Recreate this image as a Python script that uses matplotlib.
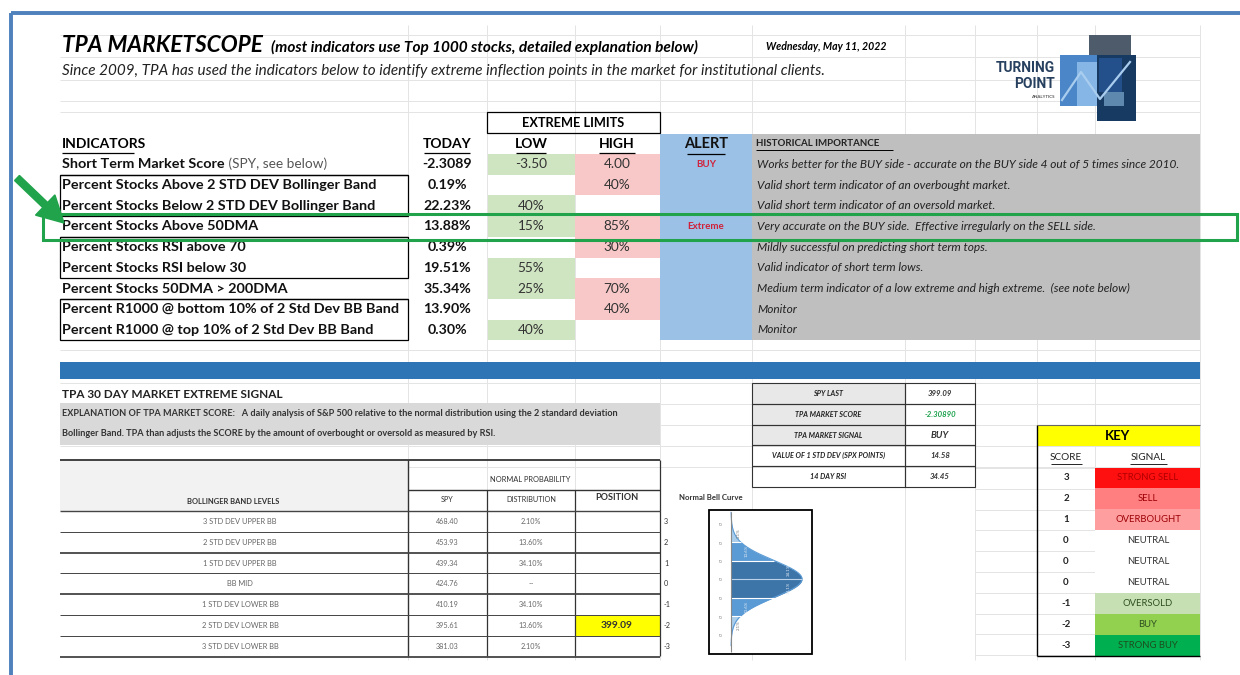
import matplotlib
matplotlib.use("Agg")
import matplotlib.pyplot as plt
from matplotlib.patches import Rectangle, FancyArrow
import numpy as np

plt.rcParams['font.family'] = ['Lato', 'DejaVu Sans']

# ---------------- data ----------------
title_main = "TPA MARKETSCOPE"
title_note = "(most indicators use Top 1000 stocks, detailed explanation below)"
date_text = "Wednesday, May 11, 2022"
subtitle = ("Since 2009, TPA has used the indicators below to identify extreme "
            "inflection points in the market for institutional clients.")

indicators = [
    "Short Term Market Score",
    "Percent Stocks Above 2 STD DEV Bollinger Band",
    "Percent Stocks Below 2 STD DEV Bollinger Band",
    "Percent Stocks Above 50DMA",
    "Percent Stocks RSI above 70",
    "Percent Stocks RSI below 30",
    "Percent Stocks 50DMA > 200DMA",
    "Percent R1000 @ bottom 10% of 2 Std Dev BB Band",
    "Percent R1000 @ top 10% of 2 Std Dev BB Band",
]
today_vals = ["-2.3089", "0.19%", "22.23%", "13.88%", "0.39%", "19.51%", "35.34%", "13.90%", "0.30%"]
low_limits = ["-3.50", "", "40%", "15%", "", "55%", "25%", "", "40%"]
high_limits = ["4.00", "40%", "", "85%", "30%", "", "70%", "40%", ""]
alerts = ["BUY", "", "", "Extreme", "", "", "", "", ""]
notes = [
    "Works better for the BUY side - accurate on the BUY side 4 out of 5 times since 2010.",
    "Valid short term indicator of an overbought market.",
    "Valid short term indicator of an oversold market.",
    "Very accurate on the BUY side.  Effective irregularly on the SELL side.",
    "Mildly successful on predicting short term tops.",
    "Valid indicator of short term lows.",
    "Medium term indicator of a low extreme and high extreme.  (see note below)",
    "Monitor",
    "Monitor",
]

bb_levels = ["3 STD DEV UPPER BB", "2 STD DEV UPPER BB", "1 STD DEV UPPER BB", "BB MID",
             "1 STD DEV LOWER BB", "2 STD DEV LOWER BB", "3 STD DEV LOWER BB"]
bb_spy = ["468.40", "453.93", "439.34", "424.76", "410.19", "395.61", "381.03"]
bb_dist = ["2.10%", "13.60%", "34.10%", "--", "34.10%", "13.60%", "2.10%"]
bb_sigma = [3, 2, 1, 0, -1, -2, -3]
bb_position = ["", "", "", "", "", "399.09", ""]
bell_pcts = ["2.1%", "13.6%", "34.1%", "34.1%", "13.6%", "2.1%"]

summary_labels = ["SPY LAST", "TPA MARKET SCORE", "TPA MARKET SIGNAL",
                  "VALUE OF 1 STD DEV (SPX POINTS)", "14 DAY RSI"]
summary_values = ["399.09", "-2.30890", "BUY", "14.58", "34.45"]

key_scores = ["3", "2", "1", "0", "0", "0", "-1", "-2", "-3"]
key_signals = ["STRONG SELL", "SELL", "OVERBOUGHT", "NEUTRAL", "NEUTRAL", "NEUTRAL",
               "OVERSOLD", "BUY", "STRONG BUY"]

explanation = [
    "EXPLANATION OF TPA MARKET SCORE:   A daily analysis of S&P 500 relative to the normal distribution using the 2 standard deviation",
    "Bollinger Band. TPA than adjusts the SCORE by the amount of overbought or oversold as measured by RSI.",
]

# ---------------- styles ----------------
GREEN = "#CFE4C1"
PINK = "#F8C8C8"
ALERT_BLUE = "#9BC2E6"
GRAY = "#BFBFBF"
BAND = "#2E75B6"
GRID = "#E4E4E4"
key_fc = ["#FF1010", "#FF7F80", "#FF9E9E", "white", "white", "white", "#C6E0B4", "#92D050", "#00B050"]
key_tc = ["#B00000", "#9C0006", "#9C0006", "#333333", "#333333", "#333333", "#2F5020", "#2F5020", "#1E4D1E"]

fig = plt.figure(figsize=(12.4, 6.75), dpi=100)
ax = fig.add_axes([0, 0, 1, 1])
ax.set_xlim(0, 1240)
ax.set_ylim(675, 0)
ax.axis("off")


def rect(x0, y0, x1, y1, fc="none", ec="none", lw=0.0, z=1):
    ax.add_patch(Rectangle((x0, y0), x1 - x0, y1 - y0, facecolor=fc, edgecolor=ec, lw=lw, zorder=z))


def hline(y, x0, x1, c="black", lw=1.0, z=3):
    ax.plot([x0, x1], [y, y], color=c, lw=lw, zorder=z, solid_capstyle="butt")


def vline(x, y0, y1, c="black", lw=1.0, z=3):
    ax.plot([x, x], [y0, y1], color=c, lw=lw, zorder=z, solid_capstyle="butt")


def txt(x, y, s, size=8, ha="left", va="center", weight="normal", style="normal", color="black", z=5, **kw):
    return ax.text(x, y, s, fontsize=size, ha=ha, va=va, fontweight=weight, fontstyle=style,
                   color=color, zorder=z, **kw)


# ---------------- spreadsheet gridlines ----------------
for gx in [408, 487, 575, 660, 752, 905, 975, 1037, 1095, 1200]:
    vline(gx, 25, 660, c=GRID, lw=0.7, z=0)
for gy in [35, 57, 80, 101, 112, 350, 383, 404, 425, 446, 467]:
    hline(gy, 60, 1200, c=GRID, lw=0.7, z=0)
for i in range(10):
    hline(468 + i * 20.8, 975, 1200, c=GRID, lw=0.7, z=0)

# outer blue frame
ax.add_patch(Rectangle((11, 13), 1260, 700, facecolor="none", edgecolor="#4F81BD", lw=2.8, zorder=10))

# ---------------- title area ----------------
txt(62, 46, title_main, size=16.3, weight="bold", style="italic")
txt(271, 47, title_note, size=11.1, weight="bold", style="italic")
txt(766, 47, date_text, size=7.6, weight="bold", style="italic")
txt(62, 71, subtitle, size=11.0, style="italic", color="#222222")

# logo
rect(1089, 35, 1131, 60, fc="#4E5B6B", z=2)
rect(1060, 55, 1098, 106, fc="#4A86C8", z=2)
rect(1077, 62, 1100, 106, fc="#86B6E6", z=2)
rect(1097, 55, 1136, 121, fc="#173A63", z=2)
rect(1099, 58, 1122, 92, fc="#234F8A", z=2)
rect(1104, 92, 1124, 106, fc="#5E88AE", z=2)
ax.plot([1062, 1081, 1100, 1130], [100, 72, 99, 62], color="#A9CDEE", lw=1.6, zorder=3)
txt(1055, 68, "TURNING", size=10, weight="bold", ha="right", color="#27405F", family=["Roboto", "DejaVu Sans"])
txt(1055, 84, "POINT", size=10, weight="bold", ha="right", color="#27405F", family=["Roboto", "DejaVu Sans"])
txt(1055, 97, "ANALYTICS", size=3.2, weight="bold", ha="right", color="#555555")

# ---------------- indicator table ----------------
row_h = 20.7
top = 154.0
n = len(indicators)
bottom = top + n * row_h

# extreme limits header
rect(487, 112, 660, 133, ec="black", lw=0.9, z=3)
txt(573.5, 123, "EXTREME LIMITS", size=9.2, weight="bold", ha="center")

# alert + historical backgrounds
rect(660, 134, 752, bottom, fc=ALERT_BLUE, z=1)
rect(752, 134, 1200, bottom, fc=GRAY, z=1)

# header row
hy = 144
txt(62, hy, "INDICATORS", size=10, weight="bold")
hline(153, 62, 134, lw=0.9)
txt(447, hy, "TODAY", size=10, weight="bold", ha="center")
hline(153, 424, 470, lw=0.9)
txt(531, hy, "LOW", size=10, weight="bold", ha="center")
hline(153, 516, 546, lw=0.9)
txt(617, hy, "HIGH", size=10, weight="bold", ha="center")
hline(153, 599, 635, lw=0.9)
txt(706, hy, "ALERT", size=10.5, weight="bold", ha="center", color="#111111")
hline(153.5, 687, 725, lw=0.9)
txt(756, hy, "HISTORICAL IMPORTANCE", size=7.0, weight="bold", color="#222222")
hline(150, 756, 893, lw=0.7)

for i in range(n):
    y0 = top + i * row_h
    yc = y0 + row_h / 2
    if low_limits[i]:
        rect(488, y0, 575, y0 + row_h, fc=GREEN, z=1)
    if high_limits[i]:
        rect(575, y0, 660, y0 + row_h, fc=PINK, z=1)
    t = txt(62, yc, indicators[i], size=10.4, weight="bold", color="#111111")
    if i == 0:
        ax.annotate(" (SPY, see below)", xy=(1, 0), xycoords=t, ha="left", va="bottom",
                    fontsize=9.8, color="#555555", zorder=5)
    txt(447, yc, today_vals[i], size=10.2, weight="bold", ha="center", color="#111111")
    txt(531, yc, low_limits[i], size=9.8, ha="center", color="#333333")
    txt(617, yc, high_limits[i], size=9.8, ha="center", color="#333333")
    if alerts[i]:
        txt(706, yc, alerts[i], size=7.0, weight="bold", ha="center", color="#D0203A")
    txt(757, yc, notes[i], size=8.6, style="italic", color="#222222")

# indicator borders
for r0, r1 in [(1, 3), (4, 6), (7, 9)]:
    rect(60, top + r0 * row_h, 408, top + r1 * row_h, ec="black", lw=0.9, z=3)
for r in [0, 3, 6]:
    hline(top + (r + 1) * row_h, 60, 408, lw=0.9)

# green highlight + arrow
ax.add_patch(Rectangle((43, 213.5), 1194, 26.5, facecolor="none", edgecolor="#20A34A", lw=2.2, zorder=8))
ax.add_patch(FancyArrow(17, 178, 47, 45, width=7, head_width=28, head_length=26,
                        length_includes_head=True, color="#20A34A", zorder=9))

# ---------------- middle band ----------------
rect(60, 362, 1200, 379, fc=BAND, z=2)
txt(62, 394, "TPA 30 DAY MARKET EXTREME SIGNAL", size=8.5, weight="bold", color="#222222")
rect(60, 403, 660, 445, fc="#D9D9D9", z=1)
txt(62, 413.5, explanation[0], size=6.6, weight="bold", color="#333333")
txt(62, 434, explanation[1], size=6.6, weight="bold", color="#333333")

# summary box
sy0 = 383.0
sh = 20.8
for i, (lab, val) in enumerate(zip(summary_labels, summary_values)):
    y0 = sy0 + i * sh
    if i < 3:
        rect(752, y0, 905, y0 + sh, fc="#E8E8E8", z=1)
    rect(752, y0, 905, y0 + sh, ec="#333333", lw=0.8, z=3)
    rect(905, y0, 975, y0 + sh, ec="#333333", lw=0.8, z=3)
    txt(828.5, y0 + sh / 2, lab, size=5.2, weight="bold", style="italic", ha="center", color="#222222")
    txt(940, y0 + sh / 2, val, size=5.6 if i != 2 else 6.8, weight="bold", style="italic", ha="center",
        color="#19A04A" if i == 1 else "#333333")

# ---------------- key ----------------
rect(1037, 425, 1200, 446, fc="#FFFF00", z=1)
txt(1118, 436, "KEY", size=9.5, weight="bold", ha="center")
txt(1066, 458, "SCORE", size=7.2, ha="center", color="#222222")
hline(463.5, 1051, 1082, lw=0.6)
txt(1148, 458, "SIGNAL", size=7.2, ha="center", color="#222222")
hline(463.5, 1130, 1167, lw=0.6)
ky0 = 467.5
kh = 20.9
for i in range(len(key_scores)):
    y0 = ky0 + i * kh
    rect(1095, y0, 1200, y0 + kh, fc=key_fc[i], z=1)
    txt(1066, y0 + kh / 2, key_scores[i], size=7, weight="bold", ha="center", color="#222222")
    txt(1148, y0 + kh / 2, key_signals[i], size=6.8, ha="center", color=key_tc[i])
vline(1037, 425, ky0 + 9 * kh, lw=1.0)
hline(ky0 + 9 * kh, 1037, 1200, lw=1.0)
hline(425, 1037, 1200, c="#666666", lw=0.8)

# ---------------- bollinger table ----------------
rect(60, 460, 408, 511, fc="#F2F2F2", z=1)
hline(459.5, 60, 660, c="#333333", lw=1.3)
txt(530, 479, "NORMAL PROBABILITY", size=5.4, ha="center", color="#333333")
hline(489.5, 408, 660, c="#333333", lw=1.0)
vline(408, 459.5, 656, c="#333333", lw=1.0)
vline(487, 489.5, 656, c="#333333", lw=0.9)
vline(575, 489.5, 656, c="#333333", lw=0.9)
vline(660, 459.5, 656, c="#333333", lw=0.9)
txt(233, 501, "BOLLINGER BAND LEVELS", size=5.4, weight="bold", ha="center", color="#333333")
txt(447, 500, "SPY", size=5.2, ha="center", color="#333333")
txt(531, 500, "DISTRIBUTION", size=5.2, ha="center", color="#333333")
txt(617, 498, "POSITION", size=6.6, weight="bold", ha="center", color="#333333")
by0 = 511.0
bh = 20.8
hline(by0, 60, 660, c="#444444", lw=1.0)
for i in range(len(bb_levels)):
    y0 = by0 + i * bh
    yc = y0 + bh / 2
    if bb_position[i]:
        rect(575.5, y0 + 0.5, 660, y0 + bh, fc="#FFFF00", z=1)
        txt(617, yc, bb_position[i], size=7.4, weight="bold", ha="center", color="#333333")
    txt(240, yc, bb_levels[i], size=5.4, ha="center", color="#666666")
    txt(447, yc, bb_spy[i], size=5.2, ha="center", color="#666666")
    txt(531, yc, bb_dist[i], size=5.2, ha="center", color="#666666")
    hline(y0 + bh, 60, 660, c="#444444", lw=1.3 if i in (1, 3, 6) else 0.7)
    txt(664, yc, str(bb_sigma[i]), size=5.2, color="#333333")

# ---------------- bell curve ----------------
txt(679, 498, "Normal Bell Curve", size=5.6, weight="bold", color="#333333")
rect(709, 510, 812, 654, fc="white", ec="black", lw=1.3, z=2)
y_mid = 579.0
sig = 18.5
x_axis = 731.0
amp = 71.0
band_cols = {3: "#A9CDEB", 2: "#5B9BD5", 1: "#3E75A8"}
for lo, hi in [(-3, -2), (-2, -1), (-1, 0), (0, 1), (1, 2), (2, 3)]:
    z = np.linspace(lo, hi, 60)
    xs = x_axis + amp * np.exp(-0.5 * z ** 2)
    ys = y_mid - z * sig
    ax.fill_betweenx(ys, x_axis, xs, color=band_cols[max(abs(lo), abs(hi))], lw=0, zorder=3)
zz = np.linspace(-3.6, 3.6, 300)
ax.plot(x_axis + amp * np.exp(-0.5 * zz ** 2), y_mid - zz * sig, color="#5B9BD5", lw=0.8, zorder=4)
for s in bb_sigma:
    if s != 0 and abs(s) < 3:
        hline(y_mid - s * sig, x_axis, x_axis + amp * np.exp(-0.5 * s ** 2), c="white", lw=0.8, z=4)
hline(y_mid, x_axis, x_axis + amp, c="#BBD3EA", lw=0.8, z=4)
vline(x_axis, 512, 652, c="#888888", lw=0.8, z=4)
for s in bb_sigma:
    txt(721, y_mid - s * sig, "\u03c3", size=3.5, ha="center", color="#888888", rotation=90)
for k, p in enumerate(bell_pcts):
    zc = 2.5 - k
    xc = x_axis + 8 if abs(zc) > 2 else x_axis + (16 if abs(zc) > 1 else 58)
    txt(xc, y_mid - zc * sig, p, size=3.2, ha="center", color="#DDE8F3" if abs(zc) < 2 else "#777777",
        rotation=90)

fig.savefig("out.png", dpi=100)
